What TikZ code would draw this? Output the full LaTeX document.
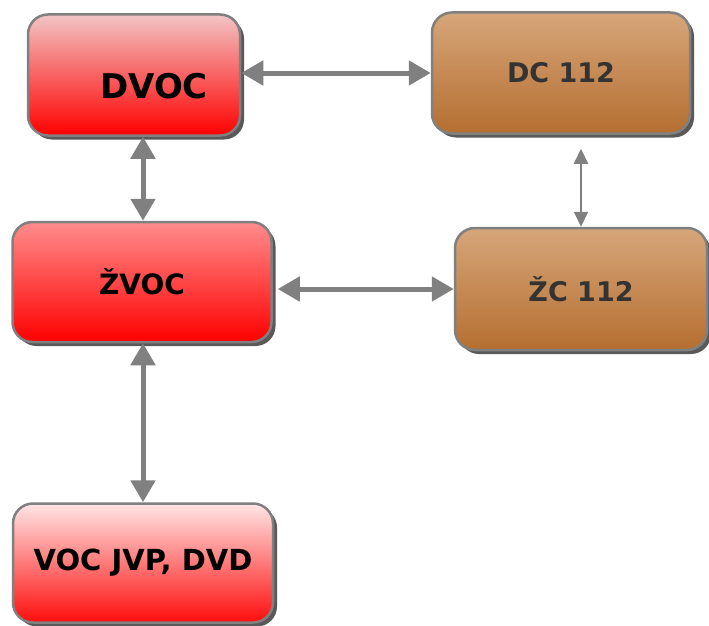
\documentclass[tikz,border=0pt]{standalone}
\usepackage{fontspec}
\setmainfont{DejaVu Sans}
\usetikzlibrary{arrows.meta,shadows}
\definecolor{linegray}{HTML}{808080}
\definecolor{textgray}{HTML}{333333}
\tikzset{
  box/.style={draw=linegray, line width=2.5pt, rounded corners=20pt, inner sep=0pt,
    drop shadow={shadow xshift=4pt, shadow yshift=-4pt, opacity=0.65, fill=black}},
  label/.style={font=\bfseries\fontsize{#1}{#1}\selectfont},
  redbox/.style={box, top color=red!45!white, middle color=red, bottom color=red},
  palebox/.style={box, top color=red!10!white, middle color=red!50!white, bottom color=red!95!white},
  dvocbox/.style={box, top color=red!20!white!90!gray, middle color=red!55!white, bottom color=red},
  brownbox/.style={box, text=textgray, top color={rgb,255:red,214;green,166;blue,122},
    middle color={rgb,255:red,184;green,112;blue,48}, bottom color={rgb,255:red,181;green,110;blue,48}},
  link/.style={draw=linegray, line width=5pt, {Triangle[length=22pt,width=24pt]}-{Triangle[length=22pt,width=24pt]}},
  thinlink/.style={draw=linegray, line width=2pt, {Triangle[length=15pt,width=14pt]}-{Triangle[length=15pt,width=14pt]}}
}
\begin{document}
\begin{tikzpicture}[x=1pt,y=-1pt]
\useasboundingbox (0,0) rectangle (709,626);

% upper row
\node[dvocbox, minimum width=212pt, minimum height=121pt] (dvoc) at (134,75) {};
\node[label=34] (dvoctext) at (154,86) {DVOC};
\node[brownbox, label=27, minimum width=258pt, minimum height=121pt] (dc) at (561,73) {DC 112};

% middle row
\node[redbox, label=28, minimum width=259pt, minimum height=120pt] (zvoc) at (142,282) {ŽVOC};
\node[brownbox, label=27, minimum width=252pt, minimum height=122pt] (zc) at (581,289) {ŽC 112};

% bottom
\node[palebox, label=29, minimum width=260pt, minimum height=119pt] (voc) at (143,563) {VOC JVP, DVD};

% connections
\draw[link] (dvoc.east |- 0,73) -- (dc.west |- 0,73);
\draw[link] (zvoc.north -| 143,0) -- (dvoc.south -| 143,0);
\draw[thinlink, shorten <=14pt] (dc.south -| zc.north) -- (zc.north);
\draw[link, shorten <=5pt] (zvoc.east |- zc.west) -- (zc.west);
\draw[link] (zvoc.south -| 143,0) -- (voc.north -| 143,0);
\end{tikzpicture}
\end{document}
